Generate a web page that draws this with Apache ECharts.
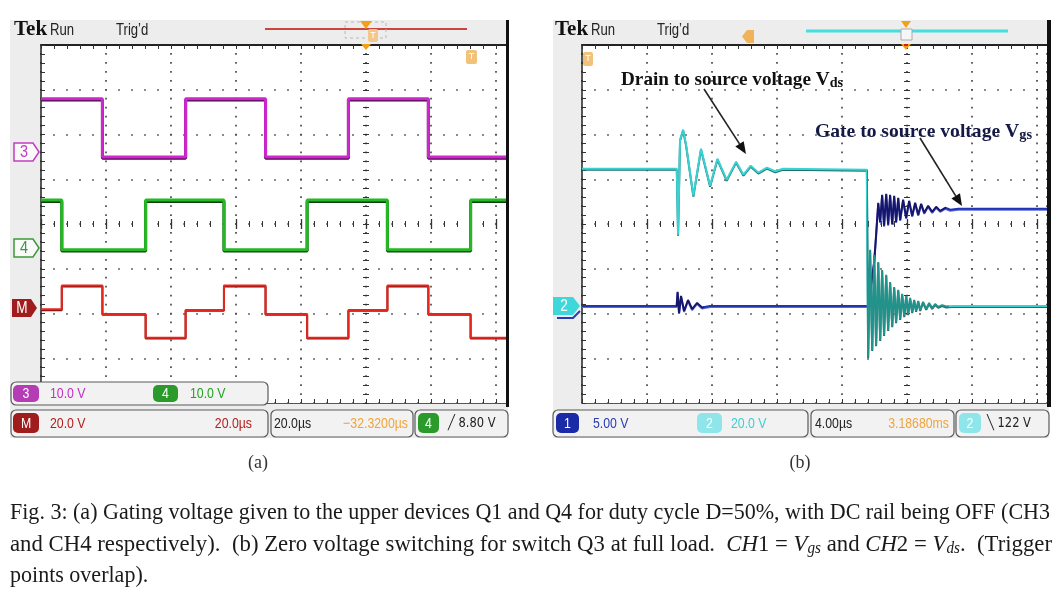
<!DOCTYPE html>
<html><head><meta charset="utf-8">
<script src="https://cdn.jsdelivr.net/npm/echarts@6/dist/echarts.min.js"></script>
<style>html,body{margin:0;padding:0;background:#fff;}#c{width:1054px;height:596px;}</style>
</head><body><div id="c"></div>
<script>
// ================= DATA =================
// Panel (a): 20 us/div, time in microseconds from left edge of screen
const aTimeMax = 143.4;
const ch3Edges  = [0, 18.9, 44.5, 69.1, 94.6, 119.2];
const ch3Levels = [11.9, -1.1, 11.9, -1.1, 11.9, -1.1];
const ch4Edges  = [0, 6.4, 32.2, 56.3, 81.9, 106.6, 132.2];
const ch4Levels = [10.7, -0.4, 10.7, -0.4, 10.7, -0.4, 10.7];
const mathEdges  = [0, 6.4, 18.9, 32.2, 44.5, 56.3, 69.1, 81.9, 94.6, 106.6, 119.2, 132.2];
const mathLevels = [-0.6, 10.0, -2.7, -13.3, -0.9, 10.0, -2.7, -13.3, -0.9, 10.0, -2.7, -13.3];
// Panel (b): 4 us/div
const bTimeMax = 28.6;
const vdsTime = [0, 5.83, 5.91, 6.03, 6.22, 6.40, 6.85, 7.32, 7.88, 8.33, 8.90, 9.48, 9.93, 10.38, 10.85, 11.37, 11.88, 12.37, 17.52, 17.60,
  17.72, 17.85, 17.97, 18.09, 18.22, 18.34, 18.46, 18.58, 18.71, 18.83, 18.95, 19.08, 19.20, 19.32, 19.45, 19.57, 19.69, 19.82, 19.94, 20.06,
  20.18, 20.31, 20.43, 20.55, 20.68, 20.80, 20.98, 21.17, 21.35, 21.54, 21.72, 21.91, 22.15, 22.40, 22.77, 28.6];
const vdsVolts = [61.3, 61.3, 31.8, 74.3, 78.8, 72.1, 49.3, 70.3, 53.7, 65.8, 56.4, 64.5, 58.7, 62.7, 59.6, 61.8, 60.2, 61.3, 60.9, -22.8,
  25.1, -19.7, 22.8, -17.5, 19.7, -15.2, 16.1, -13.0, 13.9, -10.7, 10.7, -9.0, 8.5, -7.2, 7.2, -5.8, 5.4, -4.5, 4.5, -3.6,
  3.6, -2.7, 2.7, -2.2, 2.2, -1.8, 1.8, -1.3, 1.3, -0.9, 0.9, -0.4, 0.4, -0.2, 0, 0];
const vgsTime = [0, 5.82, 5.88, 5.97, 6.09, 6.28, 6.52, 6.77, 7.08, 7.38, 7.88, 17.60, 17.78, 17.97, 18.09, 18.22, 18.34, 18.46, 18.58, 18.71,
  18.83, 18.95, 19.08, 19.20, 19.32, 19.45, 19.57, 19.75, 19.94, 20.12, 20.31, 20.49, 20.68, 20.86, 21.05, 21.29, 21.54, 21.78, 22.03, 22.34,
  22.65, 23.14, 28.6];
const vgsVolts = [0, 0, 1.57, -0.78, 1.12, -0.56, 0.67, -0.34, 0.34, -0.17, 0, 0, 2.35, 4.93, 7.95, 11.53, 9.40, 12.43, 8.96, 12.54,
  9.07, 12.43, 9.18, 12.31, 9.40, 12.09, 9.63, 11.87, 9.85, 11.75, 10.07, 11.53, 10.19, 11.42, 10.41, 11.19, 10.52, 11.08, 10.63, 10.97,
  10.75, 10.86, 10.86];
// scope channel settings: volts/div and ground marker position (divisions above centre)
const ch3Set = {scale: 10, ground: 1.609};
const ch4Set = {scale: 10, ground: -0.536};
const mSet   = {scale: 20, ground: -1.877};
const ch1Set = {scale: 5,  ground: -1.832};
const ch2Set = {scale: 20, ground: -1.832};

// ================= HELPERS =================
const ctx = document.createElement('canvas').getContext('2d');
function tw(font, s) { ctx.font = font; return ctx.measureText(s).width; }
function stepData(edges, levels, tmax) { const d = edges.map((t, i) => [t, levels[i]]); d.push([tmax, levels[levels.length - 1]]); return d; }
function pairs(ts, vs) { return ts.map((t, i) => [t, vs[i]]); }

const xAxes = [], yAxes = [], series = [];
function base(gi, pos, min, max, interval) {
  return {gridIndex: gi, type: 'value', position: pos, min, max, interval, silent: true,
    axisLabel: {show: false}, axisTick: {show: false}, splitLine: {show: false},
    axisLine: {show: false, onZero: false}, axisPointer: {show: false}};
}
function tk(inside, len, w) { return {show: true, inside, length: len, lineStyle: {color: '#333', width: w || 1}}; }
function addPanel(gi, xmax, timeMax) {
  const xb = xAxes.length, yb = yAxes.length;
  const dotV = {show: true, lineStyle: {color: '#4a4a4a', width: 1.7, type: [1.7, 7.25], dashOffset: 0.85}};
  const dotH = {show: true, lineStyle: {color: '#4a4a4a', width: 1.7, type: [1.7, 11.3], dashOffset: 0.85}};
  let a;
  a = base(gi, 'bottom', -5, xmax, 1); a.splitLine = dotV; a.axisLine = {show: true, onZero: false, lineStyle: {color: '#555', width: 1}}; xAxes.push(a);
  a = base(gi, 'bottom', -5, xmax, 0.2); a.axisTick = tk(true, 4); xAxes.push(a);
  a = base(gi, 'top', -5, xmax, 0.2); a.axisTick = tk(true, 4); a.axisLine = {show: true, onZero: false, lineStyle: {color: '#222', width: 2}}; xAxes.push(a);
  a = base(gi, 'bottom', -5, xmax, 0.2); a.axisTick = tk(true, 3); a.axisLine = {show: false, onZero: true, onZeroAxisIndex: yb}; xAxes.push(a);
  a = base(gi, 'bottom', -5, xmax, 0.2); a.axisTick = tk(false, 3); a.axisLine = {show: false, onZero: true, onZeroAxisIndex: yb}; xAxes.push(a);
  a = base(gi, 'bottom', -5, xmax, 1); a.axisTick = tk(true, 5, 1.3); a.axisLine = {show: false, onZero: true, onZeroAxisIndex: yb}; xAxes.push(a);
  a = base(gi, 'bottom', -5, xmax, 1); a.axisTick = tk(false, 5, 1.3); a.axisLine = {show: false, onZero: true, onZeroAxisIndex: yb}; xAxes.push(a);
  const t = xAxes.length; xAxes.push({gridIndex: gi, type: 'value', show: false, min: 0, max: timeMax, axisLine: {onZero: false}});
  a = base(gi, 'left', -4, 4, 1); a.splitLine = dotH; a.axisLine = {show: true, onZero: false, lineStyle: {color: '#222', width: 1.5}}; yAxes.push(a);
  a = base(gi, 'left', -4, 4, 0.2); a.axisTick = tk(true, 4); yAxes.push(a);
  a = base(gi, 'left', -4, 4, 0.2); a.axisTick = tk(true, 3); a.axisLine = {show: false, onZero: true, onZeroAxisIndex: xb}; yAxes.push(a);
  a = base(gi, 'left', -4, 4, 0.2); a.axisTick = tk(false, 3); a.axisLine = {show: false, onZero: true, onZeroAxisIndex: xb}; yAxes.push(a);
  return t;
}
function chAxis(gi, set) {
  yAxes.push({gridIndex: gi, type: 'value', show: false, min: (-4 - set.ground) * set.scale, max: (4 - set.ground) * set.scale, axisLine: {onZero: false}});
  return yAxes.length - 1;
}
function trace(xi, yi, data, step, color, width, shadow, off) {
  const ls = {width, shadowColor: shadow, shadowBlur: 0, shadowOffsetY: off};
  if (color) ls.color = color;
  series.push({type: 'line', xAxisIndex: xi, yAxisIndex: yi, data, step, symbol: 'none', silent: true, animation: false,
    emphasis: {disabled: true}, lineStyle: ls});
  return series.length - 1;
}

const tA = addPanel(0, 2.169, aTimeMax);
const y3 = chAxis(0, ch3Set), y4 = chAxis(0, ch4Set), yM = chAxis(0, mSet);
const tB = addPanel(1, 2.154, bTimeMax);
const y1 = chAxis(1, ch1Set), y2 = chAxis(1, ch2Set);

trace(tA, y3, stepData(ch3Edges, ch3Levels, aTimeMax), 'end', '#cf25cf', 3, '#3d0f3d', 1.3);
trace(tA, y4, stepData(ch4Edges, ch4Levels, aTimeMax), 'end', '#25b825', 3, '#0d3f0d', 1.3);
trace(tA, yM, stepData(mathEdges, mathLevels, aTimeMax), 'end', '#e4261c', 2, '#801010', 0.8);
const sVgs = trace(tB, y1, pairs(vgsTime, vgsVolts), false, null, 2, '#5a68da', 1);
const sVds = trace(tB, y2, pairs(vdsTime, vdsVolts), false, null, 2, '#1f6d6d', 1);

// ================= DECORATION =================
const G = [];
function R(x, y, w, h, fill, o) { o = o || {}; G.push({type: 'rect', z: o.z != null ? o.z : 50, silent: true, shape: {x, y, width: w, height: h, r: o.r || 0},
  style: {fill: fill || 'none', stroke: o.stroke || null, lineWidth: o.lw || 1, lineDash: o.dash || null}}); }
function P(pts, fill, o) { o = o || {}; G.push({type: 'polygon', z: o.z != null ? o.z : 50, silent: true, shape: {points: pts},
  style: {fill: fill || 'none', stroke: o.stroke || null, lineWidth: o.lw || 1}}); }
function L(x1, y1, x2, y2, stroke, lw, z) { G.push({type: 'line', z: z != null ? z : 50, silent: true, shape: {x1, y1, x2, y2}, style: {stroke, lineWidth: lw}}); }
function PL(pts, stroke, lw) { G.push({type: 'polyline', z: 52, silent: true, shape: {points: pts}, style: {stroke, lineWidth: lw, fill: null}}); }
function T(x, y, text, o) { o = o || {}; G.push({type: 'text', x, y, scaleX: o.sx || 1, z: o.z != null ? o.z : 60, silent: true,
  style: {text, fill: o.fill || '#222', fontSize: o.fs || 15, fontFamily: o.ff || 'Liberation Sans', fontWeight: o.fw || 'normal',
    fontStyle: o.fst || 'normal', align: o.al || 'left', verticalAlign: 'middle', rich: o.rich}}); }

// panel backgrounds
R(10, 20, 498, 418, '#ededed', {z: -10});
R(553, 20, 496, 418, '#ededed', {z: -10});
R(41, 45, 466, 358, '#ffffff', {z: -9});
R(582, 45, 465, 358, '#ffffff', {z: -9});
R(506, 20, 3, 387, '#111', {z: 55});
R(1047, 20, 4, 387, '#111', {z: 55});

const NS = 0.82; // narrow scope font
// headers
[14, 555].forEach((x0) => {
  T(x0, 30, 'Tek', {ff: 'Liberation Serif', fw: 'bold', fs: 21, fill: '#111'});
  T(x0 + 36, 31, 'Run', {fs: 16, sx: NS, fill: '#222'});
  T(x0 + 102, 31, "Trig\u2019d", {fs: 16, sx: NS, fill: '#222'});
});
// (a) header markers
L(265, 29, 467, 29, '#c9463c', 2);
R(345, 22, 41, 16, null, {stroke: '#b8b8b8', dash: [3, 3]});
P([[360, 21], [372, 21], [366, 29]], '#f2a116');
R(368, 29, 10, 13, '#f3c68a', {r: 2});
T(373, 35.5, 'T', {fs: 9, al: 'center', fill: '#fff'});
P([[361, 44], [371, 44], [366, 50]], '#f2a116', {z: 56});
R(466, 50, 11, 14, '#f3c27a', {r: 2});
T(471.5, 57, 'T', {fs: 9, al: 'center', fill: '#fff'});
// (b) header markers
P([[742, 36.5], [747, 30], [754, 30], [754, 43], [747, 43]], '#f0b25a');
L(806, 31, 1008, 31, '#44dede', 3);
R(901, 29, 11, 11, '#f6f6f6', {stroke: '#aaa'});
P([[901, 21], [911, 21], [906, 28]], '#f2a116');
P([[901, 44], [911, 44], [906, 50]], '#f2a116', {z: 56});
R(904, 44, 4, 2, '#d02020', {z: 57});
R(583, 52, 10, 14, '#f3c27a', {r: 2});
T(588, 59, 'T', {fs: 9, al: 'center', fill: '#fff'});

// left channel markers
P([[14, 143], [33, 143], [39, 152], [33, 161], [14, 161]], '#fafafa', {stroke: '#c23cc2', lw: 1.5});
T(24, 152.5, '3', {fs: 17, al: 'center', fill: '#c23cc2', sx: 0.85});
P([[14, 239], [33, 239], [39, 248], [33, 257], [14, 257]], '#fafafa', {stroke: '#3a9a3a', lw: 1.5});
T(24, 248.5, '4', {fs: 17, al: 'center', fill: '#3a9a3a', sx: 0.85});
P([[12, 299], [31, 299], [37, 308], [31, 317], [12, 317]], '#a11d1d');
T(22, 308.5, 'M', {fs: 16, al: 'center', fill: '#fff', sx: 0.85});
PL([[557, 318], [573, 318], [580, 311]], '#2a3ab8', 2);
P([[553, 297], [573, 297], [580, 306], [573, 315], [553, 315]], '#3fd8da');
T(564, 306.5, '2', {fs: 16, al: 'center', fill: '#fff', sx: 0.85});

// info boxes
const boxFill = '#f2f2f2', boxStroke = '#5a5a5a';
function box(x, y, w, h) { R(x, y, w, h, boxFill, {stroke: boxStroke, lw: 1.2, r: 5, z: 58}); }
function badge(x, y, w, h, fill, label) { R(x, y, w, h, fill, {r: 5, z: 59}); T(x + w / 2, y + h / 2 + 0.5, label, {fs: 15, al: 'center', fill: '#fff', sx: NS}); }
box(11, 382, 257, 23);
badge(13, 385, 26, 17, '#b43cb4', '3');
T(50, 393.5, '10.0 V', {fill: '#c42ec4', sx: NS});
badge(153, 385, 25, 17, '#2a9a2a', '4');
T(190, 393.5, '10.0 V', {fill: '#22a322', sx: NS});
box(11, 410, 257, 27);
badge(13, 413, 26, 20, '#a11d1d', 'M');
T(50, 423.5, '20.0 V', {fill: '#b3201e', sx: NS});
T(252, 423.5, '20.0\u00b5s', {fill: '#b3201e', sx: NS, al: 'right'});
box(271, 410, 142, 27);
T(274, 423.5, '20.0\u00b5s', {fill: '#222', sx: NS});
T(408, 423.5, '\u221232.3200\u00b5s', {fill: '#f0a43a', sx: NS, al: 'right'});
box(415, 410, 93, 27);
badge(418, 413, 21, 20, '#2a9a2a', '4');
T(448, 423.5, '\u2571 8.80 V', {fill: '#222', sx: NS, fs: 14, ff: 'DejaVu Sans'});

box(553, 410, 255, 27);
badge(556, 413, 23, 20, '#1b2aa6', '1');
T(593, 423.5, '5.00 V', {fill: '#2b3bb5', sx: NS});
badge(697, 413, 25, 20, '#8fe6ea', '2');
T(731, 423.5, '20.0 V', {fill: '#3fcdd6', sx: NS});
box(811, 410, 143, 27);
T(815, 423.5, '4.00\u00b5s', {fill: '#222', sx: NS});
T(949, 423.5, '3.18680ms', {fill: '#f0a43a', sx: NS, al: 'right'});
box(956, 410, 93, 27);
badge(959, 413, 22, 20, '#8fe6ea', '2');
T(987, 423.5, '\u2572 122 V', {fill: '#222', sx: NS, fs: 14, ff: 'DejaVu Sans'});

// annotations in (b)
const annF = '"Liberation Serif"';
function annot(x, y, main, sub, width, color) {
  const w = tw('bold 19px ' + annF, main) + tw('bold 14px ' + annF, sub);
  T(x, y, '{m|' + main + '}{s|' + sub + '}', {sx: width / w, fill: color, ff: 'Liberation Serif', fw: 'bold', fs: 19, z: 62,
    rich: {m: {fontSize: 19, fontFamily: 'Liberation Serif', fontWeight: 'bold', fill: color, lineHeight: 22, verticalAlign: 'bottom'},
           s: {fontSize: 14, fontFamily: 'Liberation Serif', fontWeight: 'bold', fill: color, lineHeight: 13, verticalAlign: 'bottom'}}});
}
annot(621, 79, 'Drain to source voltage V', 'ds', 222, '#111');
annot(815, 131, 'Gate to source voltage V', 'gs', 217, '#141a44');
L(704, 89, 739.5, 143.9, '#222', 1.6, 62);
P([[746, 154], [735.3, 146.6], [743.7, 141.2]], '#111', {z: 62});
L(920, 138, 955.7, 195.8, '#222', 1.6, 62);
P([[962, 206], [951.4, 198.4], [960.0, 193.2]], '#111', {z: 62});

// sub-figure labels
T(258, 463, '(a)', {ff: 'Liberation Serif', fs: 18, al: 'center', fill: '#333'});
T(800, 463, '(b)', {ff: 'Liberation Serif', fs: 18, al: 'center', fill: '#333'});

// caption
const CF = 24, SF = 16, FAM = '"Liberation Serif"';
const cf = '#1a1a1a';
const capRich = {
  n: {fontSize: CF, fontFamily: 'Liberation Serif', fill: cf, lineHeight: 28, verticalAlign: 'bottom'},
  i: {fontSize: CF, fontFamily: 'Liberation Serif', fontStyle: 'italic', fill: cf, lineHeight: 28, verticalAlign: 'bottom'},
  s: {fontSize: SF, fontFamily: 'Liberation Serif', fontStyle: 'italic', fill: cf, lineHeight: 13, verticalAlign: 'bottom'}
};
const fontOf = {n: CF + 'px ' + FAM, i: 'italic ' + CF + 'px ' + FAM, s: 'italic ' + SF + 'px ' + FAM};
function richLine(tokens) {
  let str = '', w = 0;
  tokens.forEach(([k, s]) => { str += '{' + k + '|' + s + '}'; w += tw(fontOf[k], s); });
  return {str, w};
}
const cap1 = richLine([['n', 'Fig. 3: (a) Gating voltage given to the upper devices Q1 and Q4 for duty cycle D=50%, with DC rail being OFF (CH3']]);
const cap2 = richLine([['n', 'and CH4 respectively).  (b) Zero voltage switching for switch Q3 at full load.  '], ['i', 'CH'], ['n', '1 = '], ['i', 'V'], ['s', 'gs'],
  ['n', ' and '], ['i', 'CH'], ['n', '2 = '], ['i', 'V'], ['s', 'ds'], ['n', '.  (Trigger']]);
const cap3 = richLine([['n', 'points overlap).']]);
const s1 = 1040 / cap1.w, s2 = 1042 / cap2.w;
T(10, 511, cap1.str, {sx: s1, fs: CF, ff: 'Liberation Serif', fill: cf, rich: capRich});
T(10, 543, cap2.str, {sx: s2, fs: CF, ff: 'Liberation Serif', fill: cf, rich: capRich});
T(10, 574, cap3.str, {sx: s1, fs: CF, ff: 'Liberation Serif', fill: cf, rich: capRich});

const chart = echarts.init(document.getElementById('c'), null, {renderer: 'canvas'});
chart.setOption({
  backgroundColor: '#ffffff',
  animation: false,
  grid: [{left: 41, top: 45, width: 466, height: 358, show: false},
         {left: 582, top: 45, width: 465, height: 358, show: false}],
  xAxis: xAxes,
  yAxis: yAxes,
  visualMap: [
    {type: 'piecewise', show: false, seriesIndex: sVgs, dimension: 0,
     pieces: [{gt: 5.8, lte: 7.5, color: '#16166a'}, {gt: 17.55, lte: 22.4, color: '#16166a'}], outOfRange: {color: '#2333ad'}},
    {type: 'piecewise', show: false, seriesIndex: sVds, dimension: 0,
     pieces: [{gt: 17.55, lte: 22.6, color: '#22938b'}], outOfRange: {color: '#38d2d2'}}
  ],
  series: series,
  graphic: {elements: G}
});
</script></body></html>
